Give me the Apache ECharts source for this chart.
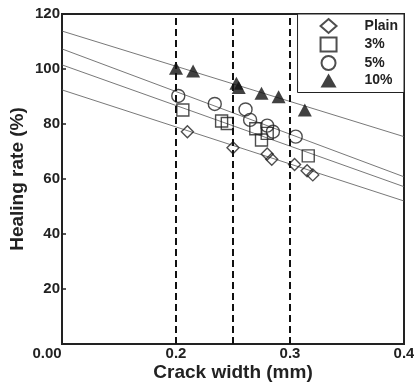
<!DOCTYPE html>
<html>
<head>
<meta charset="utf-8">
<script src="https://cdn.jsdelivr.net/npm/echarts@6/dist/echarts.min.js"></script>
<style>
  html, body { margin: 0; padding: 0; background: #fff; }
  #chart { width: 414px; height: 383px; }
</style>
</head>
<body>
<div id="chart"></div>
<script>
// healing rate vs crack width
var plainPts = [[0.210, 77.2], [0.250, 71.4], [0.280, 69.1], [0.284, 67.2], [0.304, 65.3], [0.315, 63.0], [0.320, 61.5]];
var p3Pts = [[0.206, 85.1], [0.240, 81.1], [0.245, 80.2], [0.270, 78.3], [0.275, 74.2], [0.280, 76.6], [0.316, 68.4]];
var p5Pts = [[0.202, 90.2], [0.234, 87.3], [0.261, 85.3], [0.265, 81.5], [0.280, 79.4], [0.285, 77.2], [0.305, 75.4]];
var p10Pts = [[0.200, 100.3], [0.215, 99.3], [0.253, 94.8], [0.255, 93.3], [0.275, 91.2], [0.290, 89.9], [0.313, 85.1]];

// linear fit lines, ends at the plot edges
var fitPlain = [[0.1, 92.4], [0.4, 52.0]];
var fit3 = [[0.1, 101.5], [0.4, 57.2]];
var fit5 = [[0.1, 107.3], [0.4, 60.8]];
var fit10 = [[0.1, 113.8], [0.4, 75.4]];

var cutoffs = [0.2, 0.25, 0.3];
var seriesNames = ['Plain', '3%', '5%', '10%'];

var font = '"Liberation Sans", Arial, sans-serif';
var ink = '#222';

var chart = echarts.init(document.getElementById('chart'));

function fitLine(d, withMarks) {
    var s = {
        type: 'line',
        data: d,
        symbol: 'none',
        silent: true,
        lineStyle: { color: '#555', width: 0.8 },
        z: 1
    };
    if (withMarks) {
        s.markLine = {
            silent: true,
            symbol: 'none',
            label: { show: false },
            lineStyle: { color: '#111', width: 2, type: [7, 4] },
            data: cutoffs.map(function (c) { return { xAxis: c }; })
        };
    }
    return s;
}

function openPts(name, d, symbol, size) {
    return {
        name: name,
        type: 'scatter',
        data: d,
        symbol: symbol,
        symbolSize: size,
        itemStyle: { color: 'rgba(255,255,255,0)', borderColor: ink, borderWidth: 1.4 },
        z: 3
    };
}

var option = {
    animation: false,
    grid: {
        left: 62, right: 10, top: 14, bottom: 39,
        outerBoundsMode: 'none',
        show: true, borderColor: ink, borderWidth: 2
    },
    legend: {
        data: seriesNames,
        orient: 'vertical',
        right: 10,
        top: 14,
        padding: [4, 6, 5, 22],
        itemWidth: 16,
        itemHeight: 14,
        itemGap: 2.5,
        borderColor: ink,
        borderWidth: 1,
        backgroundColor: '#fff',
        textStyle: { fontFamily: font, fontWeight: 'bold', fontSize: 14, lineHeight: 14, color: ink, padding: [0, 0, 0, 23] }
    },
    xAxis: {
        type: 'value',
        min: 0.1,
        max: 0.4,
        interval: 0.1,
        name: 'Crack width (mm)',
        nameLocation: 'middle',
        nameGap: 19,
        nameMoveOverlap: false,
        nameTextStyle: { fontFamily: font, fontWeight: 'bold', fontSize: 19, color: ink },
        axisLine: { lineStyle: { color: ink, width: 2 } },
        axisTick: { inside: true, length: 4, lineStyle: { color: ink, width: 1.5 } },
        splitLine: { show: false },
        axisLabel: {
            margin: 2,
            fontFamily: font, fontWeight: 'bold', fontSize: 15, color: ink,
            formatter: function (v) {
                // the origin is labelled 0.00 in the source figure
                if (Math.abs(v - 0.1) < 1e-6) return '{o|0.00}';
                return v.toFixed(1);
            },
            rich: {
                o: { fontFamily: font, fontWeight: 'bold', fontSize: 15, color: ink, padding: [0, 30, 0, 0] }
            }
        }
    },
    yAxis: {
        type: 'value',
        min: 0,
        max: 120,
        interval: 20,
        name: 'Healing rate (%)',
        nameLocation: 'middle',
        nameGap: 35,
        nameMoveOverlap: false,
        nameTextStyle: { fontFamily: font, fontWeight: 'bold', fontSize: 19, color: ink },
        axisLine: { show: true, lineStyle: { color: ink, width: 2 } },
        axisTick: { show: true, inside: true, length: 4, lineStyle: { color: ink, width: 1.5 } },
        splitLine: { show: false },
        axisLabel: {
            margin: 2,
            fontFamily: font, fontWeight: 'bold', fontSize: 15, color: ink,
            formatter: function (v) {
                return v === 0 ? '' : String(v);
            }
        }
    },
    series: [
        fitLine(fitPlain, true),
        fitLine(fit3, false),
        fitLine(fit5, false),
        fitLine(fit10, false),
        openPts('Plain', plainPts, 'diamond', 12),
        openPts('3%', p3Pts, 'rect', 12),
        openPts('5%', p5Pts, 'circle', 13),
        {
            name: '10%',
            type: 'scatter',
            data: p10Pts,
            symbol: 'triangle',
            symbolSize: [14, 13],
            itemStyle: { color: '#111' },
            z: 3
        }
    ]
};

chart.setOption(option);
</script>
</body>
</html>
